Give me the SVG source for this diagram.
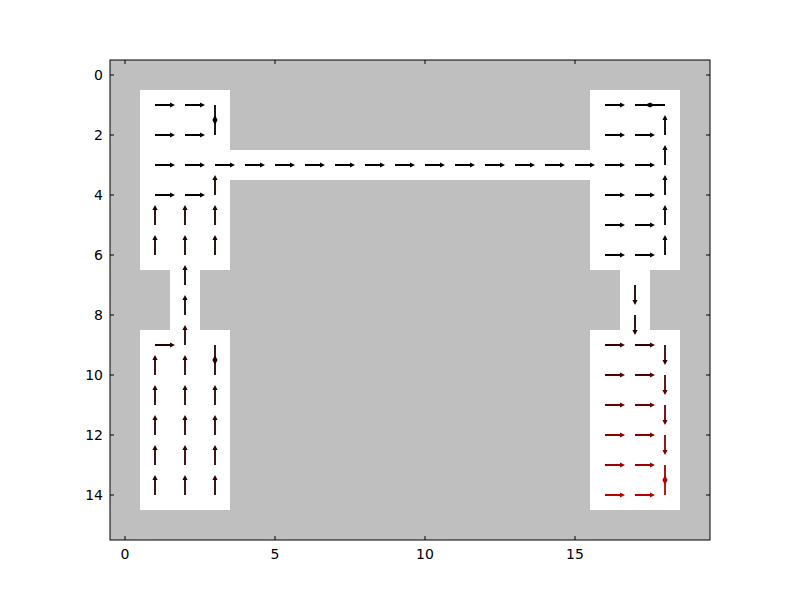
<svg xmlns="http://www.w3.org/2000/svg" xmlns:xlink="http://www.w3.org/1999/xlink" width="800" height="600" viewBox="0 0 800 600">
<style>
.tick{stroke:#000;stroke-width:1}
.lbl{font-family:"DejaVu Sans",sans-serif;font-size:14px;fill:#000}
.free{fill:#fff}
</style>
<defs>
<path id="R" d="M0,-0.9 H15 V-2.6 L20,0 L15,2.6 V0.9 H0 Z"/>
</defs>
<rect width="800" height="600" fill="#fff"/>
<g id="grid">
<rect x="110" y="60" width="600" height="480" fill="#bfbfbf"/>
<rect class="free" x="140" y="90" width="90" height="180"/>
<rect class="free" x="230" y="150" width="360" height="30"/>
<rect class="free" x="590" y="90" width="90" height="180"/>
<rect class="free" x="170" y="270" width="30" height="60"/>
<rect class="free" x="620" y="270" width="30" height="60"/>
<rect class="free" x="140" y="330" width="90" height="180"/>
<rect class="free" x="590" y="330" width="90" height="180"/>
</g>
<g id="arrows">
<!-- top-left room -->
<g fill="#000">
<use xlink:href="#R" transform="translate(155,105)"/>
<use xlink:href="#R" transform="translate(185,105)"/>
<use xlink:href="#R" transform="translate(215,105) rotate(90)"/>
<use xlink:href="#R" transform="translate(155,135)"/>
<use xlink:href="#R" transform="translate(185,135)"/>
<use xlink:href="#R" transform="translate(215,135) rotate(-90)"/>
<use xlink:href="#R" transform="translate(155,165)"/>
<use xlink:href="#R" transform="translate(185,165)"/>
<use xlink:href="#R" transform="translate(215,165)"/>
<use xlink:href="#R" transform="translate(155,195)"/>
<use xlink:href="#R" transform="translate(185,195)"/>
</g>
<g fill="#1a0000">
<use xlink:href="#R" transform="translate(215,195) rotate(-90)"/>
<use xlink:href="#R" transform="translate(155,225) rotate(-90)"/>
<use xlink:href="#R" transform="translate(185,225) rotate(-90)"/>
<use xlink:href="#R" transform="translate(215,225) rotate(-90)"/>
<use xlink:href="#R" transform="translate(155,255) rotate(-90)"/>
<use xlink:href="#R" transform="translate(185,255) rotate(-90)"/>
<use xlink:href="#R" transform="translate(215,255) rotate(-90)"/>
<use xlink:href="#R" transform="translate(185,285) rotate(-90)"/>
<use xlink:href="#R" transform="translate(185,315) rotate(-90)"/>
</g>
<!-- corridor -->
<g fill="#000">
<use xlink:href="#R" transform="translate(245,165)"/>
<use xlink:href="#R" transform="translate(275,165)"/>
<use xlink:href="#R" transform="translate(305,165)"/>
<use xlink:href="#R" transform="translate(335,165)"/>
<use xlink:href="#R" transform="translate(365,165)"/>
<use xlink:href="#R" transform="translate(395,165)"/>
<use xlink:href="#R" transform="translate(425,165)"/>
<use xlink:href="#R" transform="translate(455,165)"/>
<use xlink:href="#R" transform="translate(485,165)"/>
<use xlink:href="#R" transform="translate(515,165)"/>
<use xlink:href="#R" transform="translate(545,165)"/>
<use xlink:href="#R" transform="translate(575,165)"/>
</g>
<!-- top-right room -->
<g fill="#000">
<use xlink:href="#R" transform="translate(605,105)"/>
<use xlink:href="#R" transform="translate(635,105)"/>
<use xlink:href="#R" transform="translate(665,105) rotate(180)"/>
<use xlink:href="#R" transform="translate(605,135)"/>
<use xlink:href="#R" transform="translate(635,135)"/>
<use xlink:href="#R" transform="translate(665,135) rotate(-90)"/>
<use xlink:href="#R" transform="translate(605,165)"/>
<use xlink:href="#R" transform="translate(635,165)"/>
<use xlink:href="#R" transform="translate(665,165) rotate(-90)"/>
<use xlink:href="#R" transform="translate(605,195)"/>
<use xlink:href="#R" transform="translate(635,195)"/>
<use xlink:href="#R" transform="translate(665,195) rotate(-90)"/>
<use xlink:href="#R" transform="translate(605,225)"/>
<use xlink:href="#R" transform="translate(635,225)"/>
<use xlink:href="#R" transform="translate(665,225) rotate(-90)"/>
<use xlink:href="#R" transform="translate(605,255)"/>
<use xlink:href="#R" transform="translate(635,255)"/>
<use xlink:href="#R" transform="translate(665,255) rotate(-90)"/>
</g>
<g fill="#1a0000">
<use xlink:href="#R" transform="translate(635,285) rotate(90)"/>
<use xlink:href="#R" transform="translate(635,315) rotate(90)"/>
</g>
<!-- bottom-left room -->
<g fill="#2a0000">
<use xlink:href="#R" transform="translate(155,345)"/>
<use xlink:href="#R" transform="translate(185,345) rotate(-90)"/>
<use xlink:href="#R" transform="translate(215,345) rotate(90)"/>
<use xlink:href="#R" transform="translate(155,375) rotate(-90)"/>
<use xlink:href="#R" transform="translate(185,375) rotate(-90)"/>
<use xlink:href="#R" transform="translate(215,375) rotate(-90)"/>
<use xlink:href="#R" transform="translate(155,405) rotate(-90)"/>
<use xlink:href="#R" transform="translate(185,405) rotate(-90)"/>
<use xlink:href="#R" transform="translate(215,405) rotate(-90)"/>
<use xlink:href="#R" transform="translate(155,435) rotate(-90)"/>
<use xlink:href="#R" transform="translate(185,435) rotate(-90)"/>
<use xlink:href="#R" transform="translate(215,435) rotate(-90)"/>
<use xlink:href="#R" transform="translate(155,465) rotate(-90)"/>
<use xlink:href="#R" transform="translate(185,465) rotate(-90)"/>
<use xlink:href="#R" transform="translate(215,465) rotate(-90)"/>
<use xlink:href="#R" transform="translate(155,495) rotate(-90)"/>
<use xlink:href="#R" transform="translate(185,495) rotate(-90)"/>
<use xlink:href="#R" transform="translate(215,495) rotate(-90)"/>
</g>
<!-- bottom-right room -->
<g fill="#3a0000">
<use xlink:href="#R" transform="translate(605,345)"/>
<use xlink:href="#R" transform="translate(635,345)"/>
<use xlink:href="#R" transform="translate(665,345) rotate(90)"/>
</g>
<g fill="#520000">
<use xlink:href="#R" transform="translate(605,375)"/>
<use xlink:href="#R" transform="translate(635,375)"/>
<use xlink:href="#R" transform="translate(665,375) rotate(90)"/>
</g>
<g fill="#6c0000">
<use xlink:href="#R" transform="translate(605,405)"/>
<use xlink:href="#R" transform="translate(635,405)"/>
<use xlink:href="#R" transform="translate(665,405) rotate(90)"/>
</g>
<g fill="#860000">
<use xlink:href="#R" transform="translate(605,435)"/>
<use xlink:href="#R" transform="translate(635,435)"/>
<use xlink:href="#R" transform="translate(665,435) rotate(90)"/>
</g>
<g fill="#a00000">
<use xlink:href="#R" transform="translate(605,465)"/>
<use xlink:href="#R" transform="translate(635,465)"/>
<use xlink:href="#R" transform="translate(665,465) rotate(90)"/>
</g>
<g fill="#b80000">
<use xlink:href="#R" transform="translate(605,495)"/>
<use xlink:href="#R" transform="translate(635,495)"/>
<use xlink:href="#R" transform="translate(665,495) rotate(-90)"/>
</g>
</g>
<g id="axes">
<rect x="110" y="60" width="600" height="480" fill="none" stroke="#000" stroke-width="1"/>
<path class="tick" d="M125,540v-4M275,540v-4M425,540v-4M575,540v-4M125,60v4M275,60v4M425,60v4M575,60v4"/>
<path class="tick" d="M110,75h4M110,135h4M110,195h4M110,255h4M110,315h4M110,375h4M110,435h4M110,495h4M710,75h-4M710,135h-4M710,195h-4M710,255h-4M710,315h-4M710,375h-4M710,435h-4M710,495h-4"/>
<g class="lbl" text-anchor="middle">
<text x="125" y="559">0</text>
<text x="275" y="559">5</text>
<text x="425" y="559">10</text>
<text x="575" y="559">15</text>
</g>
<g class="lbl" text-anchor="end">
<text x="103" y="80">0</text>
<text x="103" y="140">2</text>
<text x="103" y="200">4</text>
<text x="103" y="260">6</text>
<text x="103" y="320">8</text>
<text x="103" y="380">10</text>
<text x="103" y="440">12</text>
<text x="103" y="500">14</text>
</g>
</g>
</svg>
